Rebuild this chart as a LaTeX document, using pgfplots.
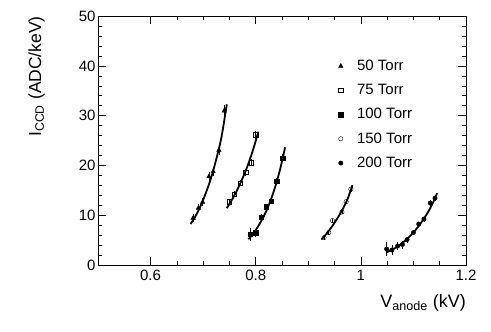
\documentclass[border=0pt]{standalone}
\usepackage{fontspec}
\setmainfont{Liberation Sans}
\usepackage{pgfplots}
\usepackage{pgfplotstable}
\pgfplotsset{compat=1.18}

% measured points (V in kV, I in ADC/keV, y error)
\pgfplotstableread{
V I e
0.681 9.5 0.8
0.691 11.5 0.8
0.699 12.7 0.8
0.711 17.8 0.9
0.719 18.8 0.9
0.730 23.1 1.0
0.740 31.0 1.2
}\tA
\pgfplotstableread{
V I e
0.749 12.8 0.6
0.759 14.3 0.6
0.770 16.5 0.6
0.781 18.7 0.7
0.791 20.6 0.7
0.800 26.2 0.8
}\tB
\pgfplotstableread{
V I e
0.790 6.3 1.3
0.800 6.6 0.8
0.811 9.7 0.6
0.820 11.8 0.6
0.830 12.9 0.6
0.840 16.9 0.7
0.851 21.5 0.8
}\tC
\pgfplotstableread{
V I e
0.930 5.6 0.4
0.939 6.6 0.4
0.946 9.0 0.4
0.964 10.7 0.4
0.972 12.8 0.5
0.981 15.3 0.6
}\tD
\pgfplotstableread{
V I e
1.049 3.3 1.4
1.059 3.1 1.0
1.070 3.9 0.8
1.079 4.2 0.8
1.088 5.2 0.6
1.100 6.6 0.5
1.110 8.3 0.5
1.120 9.3 0.5
1.132 12.5 0.6
1.141 13.5 0.6
}\tE

% fitted curves
\pgfplotstableread{
V I
0.676 8.3
0.685 9.8
0.695 11.9
0.705 14.5
0.715 17.5
0.725 21.3
0.735 25.8
0.745 32.3
}\fA
\pgfplotstableread{
V I
0.745 11.5
0.755 13.2
0.765 15.2
0.775 17.5
0.785 20.1
0.795 23.2
0.805 26.8
}\fB
\pgfplotstableread{
V I
0.786 5.25
0.796 6.5
0.806 8.1
0.816 10.0
0.826 12.4
0.836 15.4
0.846 19.1
0.856 23.7
}\fC
\pgfplotstableread{
V I
0.925 5.2
0.935 6.4
0.945 7.8
0.955 9.4
0.965 11.2
0.975 13.4
0.984 16.1
}\fD
\pgfplotstableread{
V I
1.048 2.6
1.060 3.2
1.070 3.8
1.080 4.6
1.090 5.5
1.100 6.6
1.110 7.9
1.120 9.4
1.130 11.1
1.140 13.2
1.145 14.5
}\fE

\begin{document}
\begin{tikzpicture}
\path (-98pt,-66.5pt) rectangle (393pt,265.5pt);
\begin{axis}[
  scale only axis, width=368pt, height=249.5pt,
  xmin=0.5, xmax=1.2, ymin=0, ymax=50,
  xtick={0.6,0.8,1,1.2}, minor x tick num=3,
  ytick={0,10,...,50}, minor y tick num=4,
  tick align=inside,
  major tick length=8pt, minor tick length=4pt,
  axis line style={line width=0.9pt},
  tick style={line width=0.7pt, black},
  tick label style={font=\fontsize{15}{17}\selectfont},
  /pgf/number format/assume math mode=true,
  xticklabel style={yshift=-1pt},
  yticklabel style={xshift=1pt},
  xlabel={V\textsubscript{anode} (kV)},
  ylabel={I\textsubscript{CCD} (ADC/keV)},
  label style={font=\fontsize{18}{21}\selectfont, inner sep=0pt},
  xlabel style={at={(axis description cs:1,0)}, anchor=north east, yshift=-29pt},
  ylabel style={at={(axis description cs:-0.144,1)}, anchor=south east,
    font=\fontsize{17.5}{21}\selectfont},
  legend style={at={(axis description cs:0.645,0.84)}, anchor=north west,
    draw=none, fill=none, font=\fontsize{15}{17}\selectfont,
    row sep=8.3pt, column sep=12pt},
  legend cell align=left,
  error bars/error bar style={line width=0.6pt},
  error bars/error mark=none,
]
\addplot[only marks, mark=triangle*, mark size=2.6pt, black,
  error bars/.cd, y dir=both, y explicit] table[x=V,y=I,y error=e]{\tA};
\addplot[only marks, mark=square, mark size=2.2pt, black,
  error bars/.cd, y dir=both, y explicit] table[x=V,y=I,y error=e]{\tB};
\addplot[only marks, mark=square*, mark size=2.2pt, black,
  error bars/.cd, y dir=both, y explicit] table[x=V,y=I,y error=e]{\tC};
\addplot[only marks, mark=o, mark size=2.2pt, black,
  error bars/.cd, y dir=both, y explicit] table[x=V,y=I,y error=e]{\tD};
\addplot[only marks, mark=*, mark size=2.2pt, black,
  error bars/.cd, y dir=both, y explicit] table[x=V,y=I,y error=e]{\tE};
\legend{50 Torr, 75 Torr, 100 Torr, 150 Torr, 200 Torr}
\addplot[black, line width=1.8pt, smooth, forget plot] table[x=V,y=I]{\fA};
\addplot[black, line width=1.8pt, smooth, forget plot] table[x=V,y=I]{\fB};
\addplot[black, line width=1.8pt, smooth, forget plot] table[x=V,y=I]{\fC};
\addplot[black, line width=1.8pt, smooth, forget plot] table[x=V,y=I]{\fD};
\addplot[black, line width=1.8pt, smooth, forget plot] table[x=V,y=I]{\fE};
\end{axis}
\end{tikzpicture}
\end{document}
